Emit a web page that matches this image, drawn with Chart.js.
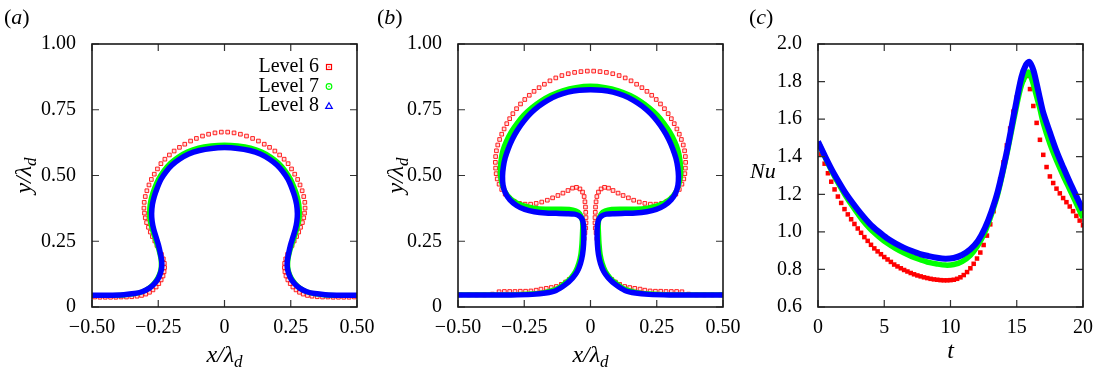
<!DOCTYPE html>
<html>
<head>
<meta charset="utf-8">
<title>Bubble interface and Nusselt number, three grid levels</title>
<style>
  body { margin: 0; background: #fff; }
  #wrap { position: relative; width: 1102px; height: 372px; }
  canvas { position: absolute; top: 0; }
</style>
</head>
<body>
<div id="wrap">
  <canvas id="panelA" width="400" height="372" style="left:0px"></canvas>
  <canvas id="panelB" width="400" height="372" style="left:368px"></canvas>
  <canvas id="panelC" width="367" height="372" style="left:735px"></canvas>
</div>

<script src="https://cdn.jsdelivr.net/npm/chart.js@4.4.1/dist/chart.umd.min.js"></script>
<script>

// ---- axes ----
const shapeTicks = [-0.5, -0.25, 0, 0.25, 0.5];
const shapeTickLabels = ['\u22120.50', '\u22120.25', '0', '0.25', '0.50'];
const heightTicks = [0, 0.25, 0.5, 0.75, 1];
const heightTickLabels = ['0', '0.25', '0.50', '0.75', '1.00'];
const timeTicks = [0, 5, 10, 15, 20];
const timeTickLabels = ['0', '5', '10', '15', '20'];
const nuTicks = [0.6, 0.8, 1.0, 1.2, 1.4, 1.6, 1.8, 2.0];
const nuTickLabels = ['0.6', '0.8', '1.0', '1.2', '1.4', '1.6', '1.8', '2.0'];
const levels = ['Level 6', 'Level 7', 'Level 8'];

// ---- (a) interface, [x/λd, y/λd] ----
const aLevel8 = [
  [-0.50,0.045],[-0.44,0.045],[-0.38,0.047],[-0.34,0.051],[-0.311,0.058],[-0.285,0.071],[-0.267,0.086],
  [-0.252,0.105],[-0.242,0.128],[-0.237,0.15],[-0.237,0.175],[-0.242,0.204],[-0.249,0.235],[-0.258,0.265],
  [-0.267,0.295],[-0.273,0.325],[-0.275,0.355],[-0.272,0.39],[-0.265,0.42],[-0.255,0.45],[-0.24,0.485],
  [-0.22,0.515],[-0.198,0.54],[-0.17,0.562],[-0.135,0.582],[-0.095,0.595],[-0.05,0.603],[0,0.606],
  [0.05,0.603],[0.095,0.595],[0.135,0.582],[0.17,0.562],[0.198,0.54],[0.22,0.515],[0.24,0.485],
  [0.255,0.45],[0.265,0.42],[0.272,0.39],[0.275,0.355],[0.273,0.325],[0.267,0.295],[0.258,0.265],
  [0.249,0.235],[0.242,0.204],[0.237,0.175],[0.237,0.15],[0.242,0.128],[0.252,0.105],[0.267,0.086],
  [0.285,0.071],[0.311,0.058],[0.34,0.051],[0.38,0.047],[0.44,0.045],[0.50,0.045]
];
const aLevel7 = [
  [-0.50,0.044],[-0.44,0.044],[-0.38,0.046],[-0.34,0.05],[-0.31,0.058],[-0.285,0.072],[-0.266,0.09],
  [-0.252,0.11],[-0.243,0.132],[-0.239,0.155],[-0.24,0.18],[-0.246,0.21],[-0.255,0.24],[-0.265,0.27],
  [-0.274,0.30],[-0.281,0.33],[-0.283,0.36],[-0.281,0.39],[-0.275,0.42],[-0.265,0.45],[-0.25,0.485],
  [-0.229,0.518],[-0.205,0.546],[-0.175,0.57],[-0.14,0.59],[-0.098,0.605],[-0.05,0.613],[0,0.616],
  [0.05,0.613],[0.098,0.605],[0.14,0.59],[0.175,0.57],[0.205,0.546],[0.229,0.518],[0.25,0.485],
  [0.265,0.45],[0.275,0.42],[0.281,0.39],[0.283,0.36],[0.281,0.33],[0.274,0.30],[0.265,0.27],
  [0.255,0.24],[0.246,0.21],[0.24,0.18],[0.239,0.155],[0.243,0.132],[0.252,0.11],[0.266,0.09],
  [0.285,0.072],[0.31,0.058],[0.34,0.05],[0.38,0.046],[0.44,0.044],[0.50,0.044]
];
const aLevel6 = [
  [-0.49,0.038],[-0.47,0.037],[-0.45,0.037],[-0.43,0.037],[-0.41,0.037],[-0.39,0.038],[-0.37,0.038],
  [-0.35,0.039],[-0.33,0.041],[-0.313,0.044],[-0.297,0.049],[-0.283,0.056],[-0.27,0.065],[-0.258,0.076],
  [-0.248,0.089],[-0.239,0.103],[-0.232,0.118],[-0.228,0.134],[-0.226,0.15],[-0.227,0.166],[-0.231,0.183],
  [-0.238,0.2],[-0.246,0.217],[-0.255,0.234],[-0.263,0.251],[-0.272,0.268],[-0.28,0.285],[-0.287,0.303],
  [-0.294,0.321],[-0.299,0.339],[-0.302,0.357],[-0.304,0.376],[-0.303,0.398],[-0.299,0.42],[-0.293,0.442],
  [-0.285,0.464],[-0.276,0.485],[-0.265,0.505],[-0.253,0.525],[-0.24,0.545],[-0.225,0.562],[-0.208,0.578],
  [-0.19,0.593],[-0.17,0.607],[-0.15,0.619],[-0.128,0.631],[-0.106,0.641],[-0.083,0.65],[-0.06,0.657],
  [-0.036,0.662],[-0.012,0.665],
  [0.012,0.665],[0.036,0.662],[0.06,0.657],[0.083,0.65],[0.106,0.641],[0.128,0.631],[0.15,0.619],
  [0.17,0.607],[0.19,0.593],[0.208,0.578],[0.225,0.562],[0.24,0.545],[0.253,0.525],[0.265,0.505],
  [0.276,0.485],[0.285,0.464],[0.293,0.442],[0.299,0.42],[0.303,0.398],[0.304,0.376],[0.302,0.357],
  [0.299,0.339],[0.294,0.321],[0.287,0.303],[0.28,0.285],[0.272,0.268],[0.263,0.251],[0.255,0.234],
  [0.246,0.217],[0.238,0.2],[0.231,0.183],[0.227,0.166],[0.226,0.15],[0.228,0.134],[0.232,0.118],
  [0.239,0.103],[0.248,0.089],[0.258,0.076],[0.27,0.065],[0.283,0.056],[0.297,0.049],[0.313,0.044],
  [0.33,0.041],[0.35,0.039],[0.37,0.038],[0.39,0.038],[0.41,0.037],[0.43,0.037],[0.45,0.037],
  [0.47,0.037],[0.49,0.038]
];

// ---- (b) interface, later time ----
const bLevel8 = [
  [-0.50,0.046],[-0.40,0.046],[-0.30,0.046],[-0.22,0.048],[-0.17,0.053],[-0.13,0.063],[-0.095,0.085],
  [-0.068,0.11],[-0.05,0.135],[-0.038,0.165],[-0.03,0.2],[-0.026,0.24],[-0.025,0.28],[-0.026,0.31],
  [-0.031,0.332],[-0.042,0.346],[-0.06,0.353],[-0.09,0.355],[-0.13,0.356],[-0.17,0.357],[-0.212,0.362],
  [-0.248,0.371],[-0.279,0.386],[-0.304,0.407],[-0.321,0.433],[-0.33,0.463],[-0.332,0.497],[-0.329,0.532],
  [-0.322,0.567],[-0.31,0.603],[-0.295,0.638],[-0.276,0.672],[-0.253,0.705],[-0.226,0.736],[-0.196,0.763],
  [-0.162,0.786],[-0.125,0.804],[-0.085,0.817],[-0.043,0.824],[0,0.826],
  [0.043,0.824],[0.085,0.817],[0.125,0.804],[0.162,0.786],[0.196,0.763],[0.226,0.736],[0.253,0.705],
  [0.276,0.672],[0.295,0.638],[0.31,0.603],[0.322,0.567],[0.329,0.532],[0.332,0.497],[0.33,0.463],
  [0.321,0.433],[0.304,0.407],[0.279,0.386],[0.248,0.371],[0.212,0.362],[0.17,0.357],[0.13,0.356],
  [0.09,0.355],[0.06,0.353],[0.042,0.346],[0.031,0.332],[0.026,0.31],[0.025,0.28],[0.026,0.24],
  [0.03,0.2],[0.038,0.165],[0.05,0.135],[0.068,0.11],[0.095,0.085],[0.13,0.063],[0.17,0.053],
  [0.22,0.048],[0.30,0.046],[0.40,0.046],[0.50,0.046]
];
const bLevel7 = [
  [-0.50,0.047],[-0.30,0.047],[-0.22,0.05],[-0.17,0.056],[-0.13,0.068],[-0.1,0.088],[-0.075,0.11],
  [-0.057,0.135],[-0.045,0.165],[-0.037,0.2],[-0.033,0.24],[-0.031,0.28],[-0.03,0.31],[-0.032,0.335],
  [-0.04,0.355],[-0.055,0.366],[-0.08,0.372],[-0.12,0.373],[-0.17,0.373],[-0.215,0.377],[-0.255,0.386],
  [-0.288,0.402],[-0.313,0.425],[-0.33,0.455],[-0.339,0.49],[-0.341,0.525],[-0.338,0.56],[-0.331,0.595],
  [-0.318,0.63],[-0.3,0.665],[-0.278,0.698],[-0.252,0.73],[-0.222,0.758],[-0.188,0.783],[-0.15,0.805],
  [-0.105,0.823],[-0.055,0.835],[0,0.84],
  [0.055,0.835],[0.105,0.823],[0.15,0.805],[0.188,0.783],[0.222,0.758],[0.252,0.73],[0.278,0.698],
  [0.3,0.665],[0.318,0.63],[0.331,0.595],[0.338,0.56],[0.341,0.525],[0.339,0.49],[0.33,0.455],
  [0.313,0.425],[0.288,0.402],[0.255,0.386],[0.215,0.377],[0.17,0.373],[0.12,0.373],[0.08,0.372],
  [0.055,0.366],[0.04,0.355],[0.032,0.335],[0.03,0.31],[0.031,0.28],[0.033,0.24],[0.037,0.2],
  [0.045,0.165],[0.057,0.135],[0.075,0.11],[0.1,0.088],[0.13,0.068],[0.17,0.056],[0.22,0.05],
  [0.30,0.047],[0.50,0.047]
];
const bLevel6 = [
  [-0.49,0.046],[-0.46,0.046],[-0.43,0.046],[-0.40,0.046],[-0.37,0.049],[-0.345,0.058],[-0.325,0.059],
  [-0.305,0.059],[-0.285,0.059],[-0.265,0.06],[-0.245,0.06],[-0.225,0.061],[-0.205,0.064],[-0.187,0.068],
  [-0.167,0.071],[-0.148,0.074],[-0.129,0.078],[-0.11,0.086],[-0.094,0.095],[-0.08,0.105],[-0.066,0.116],
  [-0.055,0.13],[-0.047,0.145],[-0.041,0.162],[-0.035,0.185],[-0.03,0.21],[-0.027,0.235],[-0.024,0.26],
  [-0.021,0.282],[-0.018,0.30],[-0.017,0.32],[-0.017,0.34],[-0.018,0.36],[-0.019,0.38],[-0.021,0.40],
  [-0.024,0.42],[-0.03,0.437],[-0.04,0.449],[-0.053,0.455],[-0.068,0.452],[-0.085,0.443],[-0.104,0.433],
  [-0.123,0.424],[-0.143,0.415],[-0.163,0.406],[-0.184,0.399],[-0.205,0.394],[-0.226,0.391],[-0.247,0.391],
  [-0.268,0.394],[-0.288,0.402],[-0.306,0.414],[-0.322,0.429],[-0.335,0.447],[-0.345,0.467],[-0.352,0.487],
  [-0.356,0.507],[-0.358,0.528],[-0.359,0.55],[-0.358,0.572],[-0.355,0.594],[-0.35,0.616],[-0.343,0.637],
  [-0.335,0.657],[-0.326,0.677],[-0.316,0.697],[-0.305,0.716],[-0.293,0.735],[-0.279,0.754],[-0.264,0.772],
  [-0.248,0.789],[-0.231,0.805],[-0.213,0.82],[-0.194,0.834],[-0.174,0.847],[-0.153,0.86],[-0.131,0.871],
  [-0.108,0.88],[-0.084,0.887],[-0.06,0.892],[-0.036,0.895],[-0.012,0.897],
  [0.012,0.897],[0.036,0.895],[0.06,0.892],[0.084,0.887],[0.108,0.88],[0.131,0.871],[0.153,0.86],
  [0.174,0.847],[0.194,0.834],[0.213,0.82],[0.231,0.805],[0.248,0.789],[0.264,0.772],[0.279,0.754],
  [0.293,0.735],[0.305,0.716],[0.316,0.697],[0.326,0.677],[0.335,0.657],[0.343,0.637],[0.35,0.616],
  [0.355,0.594],[0.358,0.572],[0.359,0.55],[0.358,0.528],[0.356,0.507],[0.352,0.487],[0.345,0.467],
  [0.335,0.447],[0.322,0.429],[0.306,0.414],[0.288,0.402],[0.268,0.394],[0.247,0.391],[0.226,0.391],
  [0.205,0.394],[0.184,0.399],[0.163,0.406],[0.143,0.415],[0.123,0.424],[0.104,0.433],[0.085,0.443],
  [0.068,0.452],[0.053,0.455],[0.04,0.449],[0.03,0.437],[0.024,0.42],[0.021,0.40],[0.019,0.38],
  [0.018,0.36],[0.017,0.34],[0.017,0.32],[0.018,0.30],[0.021,0.282],[0.024,0.26],[0.027,0.235],
  [0.03,0.21],[0.035,0.185],[0.041,0.162],[0.047,0.145],[0.055,0.13],[0.066,0.116],[0.08,0.105],
  [0.094,0.095],[0.11,0.086],[0.129,0.078],[0.148,0.074],[0.167,0.071],[0.187,0.068],[0.205,0.064],
  [0.225,0.061],[0.245,0.06],[0.265,0.06],[0.285,0.059],[0.305,0.059],[0.325,0.059],[0.345,0.058],
  [0.37,0.049],[0.40,0.046],[0.43,0.046],[0.46,0.046],[0.49,0.046]
];

// ---- (c) Nusselt number against time ----
const nuLevel8 = [
  [0,1.481],[0.55,1.400],[1.06,1.329],[1.56,1.267],[2.06,1.209],[2.69,1.147],[3.32,1.090],[3.95,1.040],
  [4.58,1.001],[5.21,0.966],[5.84,0.939],[6.47,0.916],[7.09,0.898],[7.72,0.882],[8.35,0.871],[8.98,0.862],
  [9.61,0.857],[10.24,0.861],[10.87,0.877],[11.5,0.907],[12.08,0.953],[12.6,1.02],[13.1,1.11],[13.58,1.219],
  [14.21,1.414],[14.84,1.645],[15.35,1.823],[15.7,1.89],[15.95,1.905],[16.25,1.862],[16.5,1.79],[16.75,1.71],
  [17.0,1.635],[17.5,1.53],[18.0,1.43],[18.5,1.345],[19.0,1.265],[19.5,1.19],[20,1.115]
];
const nuLevel7 = [
  [0,1.479],[0.55,1.395],[1.06,1.32],[1.56,1.255],[2.06,1.195],[2.69,1.128],[3.32,1.066],[3.95,1.015],
  [4.58,0.975],[5.21,0.94],[5.84,0.912],[6.47,0.888],[7.09,0.868],[7.72,0.852],[8.35,0.838],[8.98,0.829],
  [9.61,0.823],[10.24,0.826],[10.87,0.842],[11.5,0.875],[12.08,0.93],[12.6,1.0],[13.1,1.095],[13.58,1.205],
  [14.21,1.40],[14.84,1.62],[15.35,1.78],[15.85,1.85],[16.1,1.82],[16.5,1.72],[16.75,1.655],[17.0,1.58],
  [17.5,1.47],[18.0,1.38],[18.5,1.3],[19.0,1.225],[19.5,1.15],[20,1.075]
];
const nuTime = [
  0,0.25,0.5,0.75,1,1.25,1.5,1.75,2,2.25,2.5,2.75,3,3.25,3.5,3.75,4,4.25,4.5,4.75,
  5,5.25,5.5,5.75,6,6.25,6.5,6.75,7,7.25,7.5,7.75,8,8.25,8.5,8.75,9,9.25,9.5,9.75,
  10,10.25,10.5,10.75,11,11.25,11.5,11.75,12,12.25,12.5,12.75,13,13.25,13.5,13.75,14,14.25,14.5,14.75,
  15,15.25,15.5,15.75,16,16.25,16.5,16.75,17,17.25,17.5,17.75,18,18.25,18.5,18.75,19,19.25,19.5,19.75,20
];
const nuLevel6 = [
  1.456,1.413,1.363,1.312,1.267,1.226,1.188,1.154,1.121,1.093,
  1.067,1.042,1.018,0.995,0.972,0.952,0.931,0.912,0.896,0.881,
  0.866,0.853,0.840,0.826,0.816,0.806,0.797,0.789,0.781,0.774,
  0.768,0.763,0.758,0.754,0.750,0.747,0.745,0.743,0.742,0.742,
  0.743,0.745,0.750,0.758,0.770,0.786,0.806,0.830,0.858,0.890,
  0.93,0.98,1.04,1.11,1.19,1.28,1.37,1.46,1.55,1.64,
  1.715,1.77,1.81,1.83,1.76,1.67,1.58,1.49,1.41,1.345,
  1.295,1.26,1.23,1.205,1.18,1.158,1.135,1.11,1.085,1.06,
  1.035
];

const serif = "'Liberation Serif', 'Times New Roman', Times, serif";
const RED = '#ff0000', GREEN = '#00ff00', BLUE = '#0000ff';

Chart.defaults.font.family = serif;
Chart.defaults.font.size = 20;
Chart.defaults.color = '#000';
Chart.defaults.animation = false;

const toXY = pts => pts.map(p => ({ x: p[0], y: p[1] }));

function shapeDatasets(l6, l7, l8) {
  return [
    { label: levels[2], data: toXY(l8), showLine: true, borderColor: BLUE, borderWidth: 5.5,
      pointRadius: 0, tension: 0.3, order: 1 },
    { label: levels[1], data: toXY(l7), showLine: true, borderColor: GREEN, borderWidth: 5,
      pointRadius: 0, tension: 0.3, order: 2 },
    { label: levels[0], data: toXY(l6), showLine: false, pointStyle: 'rect', pointRadius: 2.6,
      borderWidth: 1, borderColor: 'rgba(255,0,0,0.85)', backgroundColor: 'rgba(255,170,170,0.4)', order: 3 }
  ];
}

function axis(min, max, ticks, labels, fit) {
  return {
    type: 'linear', min: min, max: max,
    afterBuildTicks: s => { s.ticks = ticks.map(v => ({ value: v })); },
    ticks: { autoSkip: false, maxRotation: 0, padding: fit.pad,
             callback: v => labels[ticks.indexOf(v)] },
    grid: { display: false },
    border: { display: false },
    afterFit: s => { if (fit.w) s.width = fit.w; if (fit.h) s.height = fit.h; }
  };
}

// box round the plot with inward ticks on all four sides
const framePlugin = {
  id: 'frame',
  afterDatasetsDraw(chart) {
    const { ctx, chartArea: a } = chart;
    const sx = chart.scales.x, sy = chart.scales.y;
    ctx.save();
    ctx.strokeStyle = '#333';
    ctx.lineWidth = 1.2;
    ctx.beginPath();
    sx.ticks.forEach(t => {
      const px = sx.getPixelForValue(t.value);
      ctx.moveTo(px, a.bottom); ctx.lineTo(px, a.bottom - 7);
      ctx.moveTo(px, a.top); ctx.lineTo(px, a.top + 7);
    });
    sy.ticks.forEach(t => {
      const py = sy.getPixelForValue(t.value);
      ctx.moveTo(a.left, py); ctx.lineTo(a.left + 7, py);
      ctx.moveTo(a.right, py); ctx.lineTo(a.right - 7, py);
    });
    ctx.stroke();
    ctx.strokeStyle = '#1a1a1a';
    ctx.lineWidth = 1.6;
    ctx.strokeRect(a.left, a.top, a.right - a.left, a.bottom - a.top);
    ctx.restore();
  }
};

const it = s => 'italic ' + s + 'px ' + serif;
const up = s => s + 'px ' + serif;

function runsWidth(ctx, runs) {
  let w = 0;
  runs.forEach(r => { ctx.font = r[1]; w += ctx.measureText(r[0]).width; });
  return w;
}
function drawRuns(ctx, runs, x, base) {
  runs.forEach(r => {
    ctx.font = r[1];
    ctx.fillText(r[0], x, base + (r[2] || 0));
    x += ctx.measureText(r[0]).width;
  });
}
function drawCentered(ctx, runs, cx, base) {
  drawRuns(ctx, runs, cx - runsWidth(ctx, runs) / 2, base);
}
function drawRotated(ctx, runs, bx, cy) {
  ctx.save();
  ctx.translate(bx, cy);
  ctx.rotate(-Math.PI / 2);
  drawRuns(ctx, runs, -runsWidth(ctx, runs) / 2, 0);
  ctx.restore();
}
const lambdaTitle = v => [[v + '/\u03bb', it(24)], ['d', it(17), 5]];
const panelTag = s => [['(', up(22)], [s, it(22)], [')', up(22)]];

function decorPlugin(draw) {
  return {
    id: 'decor',
    afterDraw(chart) {
      const ctx = chart.ctx;
      ctx.save();
      ctx.fillStyle = '#000';
      ctx.textBaseline = 'alphabetic';
      ctx.textAlign = 'left';
      draw(ctx, chart.chartArea);
      ctx.restore();
    }
  };
}

// key inside panel (a): open square, circle and triangle
function drawKey(ctx, right, markX, baselines) {
  ctx.font = up(20);
  ctx.textAlign = 'right';
  levels.forEach((name, i) => ctx.fillText(name, right, baselines[i]));
  ctx.textAlign = 'left';
  ctx.lineWidth = 1.2;
  const y0 = baselines[0] - 5, y1 = baselines[1] - 5, y2 = baselines[2] - 5;
  ctx.strokeStyle = RED;
  ctx.strokeRect(markX - 2.5, y0 - 2.5, 5, 5);
  ctx.fillStyle = RED;
  ctx.fillRect(markX - 0.6, y0 - 0.6, 1.2, 1.2);
  ctx.strokeStyle = GREEN;
  ctx.beginPath(); ctx.arc(markX, y1, 2.8, 0, 2 * Math.PI); ctx.stroke();
  ctx.fillStyle = GREEN;
  ctx.fillRect(markX - 0.6, y1 - 0.6, 1.2, 1.2);
  ctx.strokeStyle = BLUE;
  ctx.beginPath();
  ctx.moveTo(markX, y2 - 3.3); ctx.lineTo(markX + 3.3, y2 + 2.4); ctx.lineTo(markX - 3.3, y2 + 2.4);
  ctx.closePath(); ctx.stroke();
  ctx.fillStyle = '#000';
}

function makeShapePanel(id, l6, l7, l8, tag, tagX, left, right, yTitleX, withKey) {
  new Chart(document.getElementById(id), {
    type: 'scatter',
    data: { datasets: shapeDatasets(l6, l7, l8) },
    options: {
      responsive: false,
      events: [],
      layout: { padding: { left: 0, top: 44, right: right, bottom: 0 } },
      plugins: { legend: { display: false }, tooltip: { enabled: false } },
      scales: {
        x: axis(-0.5, 0.5, shapeTicks, shapeTickLabels, { pad: 1, h: 65 }),
        y: axis(0, 1, heightTicks, heightTickLabels, { pad: 8, w: left })
      }
    },
    plugins: [framePlugin, decorPlugin((ctx, a) => {
      drawRuns(ctx, panelTag(tag), tagX, 24);
      drawCentered(ctx, lambdaTitle('x'), (a.left + a.right) / 2, 362);
      drawRotated(ctx, lambdaTitle('y'), yTitleX, (a.top + a.bottom) / 2);
      if (withKey) drawKey(ctx, 319, 329, [72, 91.5, 111]);
    })]
  });
}

function drawAll() {
  makeShapePanel('panelA', aLevel6, aLevel7, aLevel8, 'a', 4, 92, 43, 31, true);
  makeShapePanel('panelB', bLevel6, bLevel7, bLevel8, 'b', 9, 90, 45, 35, false);

  new Chart(document.getElementById('panelC'), {
    type: 'scatter',
    data: {
      datasets: [
        { label: levels[2], data: toXY(nuLevel8), showLine: true, borderColor: BLUE, borderWidth: 6,
          pointRadius: 0, tension: 0.3, order: 1 },
        { label: levels[1], data: toXY(nuLevel7), showLine: true, borderColor: GREEN, borderWidth: 5.5,
          pointRadius: 0, tension: 0.3, order: 2 },
        { label: levels[0], data: nuTime.map((t, i) => ({ x: t, y: nuLevel6[i] })), showLine: false,
          pointStyle: 'rect', pointRadius: 3.2, borderWidth: 0, backgroundColor: RED, order: 3 }
      ]
    },
    options: {
      responsive: false,
      events: [],
      layout: { padding: { left: 0, top: 44, right: 19, bottom: 0 } },
      plugins: { legend: { display: false }, tooltip: { enabled: false } },
      scales: {
        x: axis(0, 20, timeTicks, timeTickLabels, { pad: 1, h: 65 }),
        y: axis(0.6, 2.0, nuTicks, nuTickLabels, { pad: 8, w: 83 })
      }
    },
    plugins: [framePlugin, decorPlugin((ctx, a) => {
      drawRuns(ctx, panelTag('c'), 14, 24);
      drawRuns(ctx, [['Nu', it(22)]], 15, 178);
      drawCentered(ctx, [['t', it(24)]], (a.left + a.right) / 2, 358);
    })]
  });
}

Promise.all([
  document.fonts.load("20px 'Liberation Serif'"),
  document.fonts.load("italic 20px 'Liberation Serif'")
]).then(drawAll, drawAll);

</script>
</body>
</html>
